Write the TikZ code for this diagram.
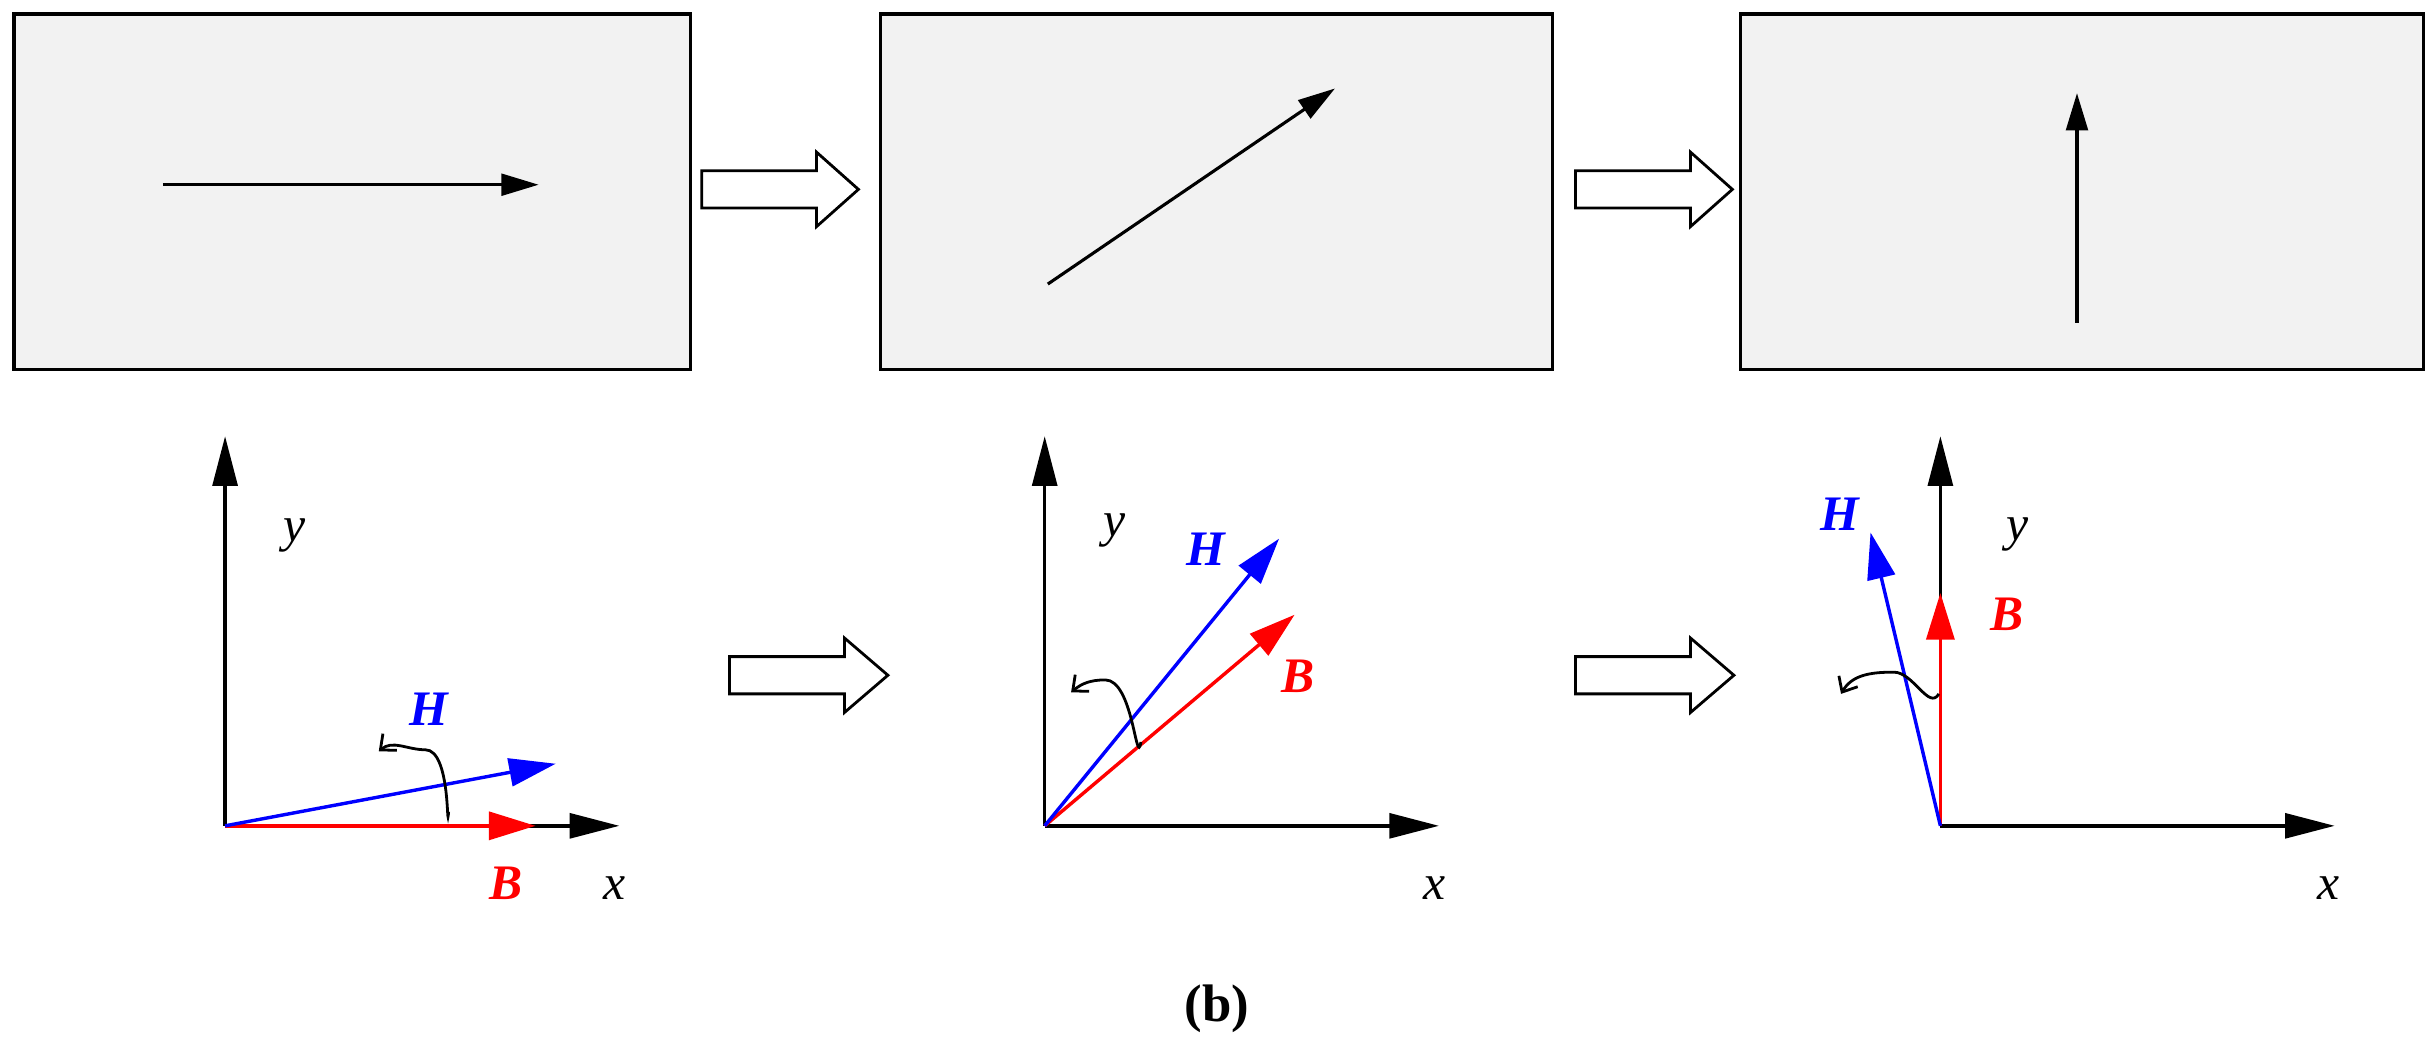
\documentclass[tikz,border=0pt]{standalone}
\usepackage{fontspec}
\setmainfont{Liberation Serif}
\usetikzlibrary{arrows.meta}
\begin{document}
\begin{tikzpicture}[x=1pt,y=-1pt,
 box/.style={draw,line width=2pt,fill={rgb,255:red,242;green,242;blue,242}},
 ar/.style={line width=2pt,-{Triangle[length=24,width=14]}},
 ax/.style={line width=2.2pt,-{Triangle[length=32,width=16]}},
 vec/.style={line width=2.2pt,-{Triangle[length=30,width=18]}},
 lab/.style={font=\fontsize{32}{36}\selectfont\itshape},
 blab/.style={font=\fontsize{32}{36}\selectfont\bfseries\itshape},
 rot/.style={line width=1.8pt,-{Straight Barb[length=8,width=14]}},
 blk/.style={draw,line width=1.8pt,fill=white}]
\useasboundingbox (0,0) rectangle (1568,682);
\newcommand{\blockarrow}[3]{\draw[blk] (#1,#2-12) -- (#1+74,#2-12) -- (#1+74,#2-24) -- (#1+#3,#2) -- (#1+74,#2+24) -- (#1+74,#2+12) -- (#1,#2+12) -- cycle;}
% boxes
\node[box,minimum width=436,minimum height=229,anchor=north west] (b1) at (8,8) {};
\node[box,minimum width=433,minimum height=229,anchor=north west] (b2) at (566,8) {};
\node[box,minimum width=440,minimum height=229,anchor=north west] (b3) at (1120,8) {};
\coordinate (a1s) at (105,119); \coordinate (a1e) at (347,119);
\coordinate (a2s) at (675,183); \coordinate (a2e) at (860,57);
\coordinate (a3s) at (1338,208); \coordinate (a3e) at (1338,60);
\draw[ar] (a1s) -- (a1e);
\draw[ar] (a2s) -- (a2e);
\draw[ar] (a3s) -- (a3e);
\blockarrow{452}{122}{101}
\blockarrow{1015}{122}{101}
\blockarrow{470}{435}{102}
\blockarrow{1015}{435}{102}
% axes 1
\coordinate (o1) at (145,532); \coordinate (y1) at (145,281); \coordinate (x1) at (399,532);
\coordinate (h1) at (358,492); \coordinate (bb1) at (345,532);
\draw[ax] (o1) -- (y1); \draw[ax] (o1) -- (x1);
\draw[vec,red] (o1) -- (bb1);
\draw[vec,blue] (o1) -- (h1);
\node[lab] (ly1) at (190,345) {y};
\node[lab] (lx1) at (396,572) {x};
\node[blab,blue] (lh1) at (276,457) {H};
\node[blab,red] (lb1) at (326,569) {B};
\coordinate (r1s) at (289,523); \coordinate (r1e) at (244,484);
\draw[rot] (r1s) to[out=-95,in=0] ++(-15,-40) to[out=180,in=40] (r1e);
% axes 2
\coordinate (o2) at (673,532); \coordinate (y2) at (673,281); \coordinate (x2) at (927,532);
\coordinate (h2) at (824,347); \coordinate (bb2) at (834,396);
\draw[ax] (o2) -- (y2); \draw[ax] (o2) -- (x2);
\draw[vec,red] (o2) -- (bb2);
\draw[vec,blue] (o2) -- (h2);
\node[lab] (ly2) at (718,342) {y};
\node[lab] (lx2) at (924,572) {x};
\node[blab,blue] (lh2) at (777,354) {H};
\node[blab,red] (lb2) at (836,436) {B};
\coordinate (r2e) at (690,446);
\draw[rot] (735,478) to[out=-100,in=0] (712,438) to[out=180,in=40] (r2e);
% axes 3
\coordinate (o3) at (1250,532); \coordinate (y3) at (1250,281); \coordinate (x3) at (1504,532);
\coordinate (h3) at (1205,343); \coordinate (bb3) at (1250,382);
\draw[ax] (o3) -- (y3); \draw[ax] (o3) -- (x3);
\draw[vec,red] (o3) -- (bb3);
\draw[vec,blue] (o3) -- (h3);
\node[lab] (ly3) at (1300,344) {y};
\node[lab] (lx3) at (1500,572) {x};
\node[blab,blue] (lh3) at (1185,331) {H};
\node[blab,red] (lb3) at (1293,396) {B};
\coordinate (r3e) at (1186,447);
\draw[rot] (1249,447) to[out=-120,in=0] (1220,433) to[out=180,in=60] (r3e);
\node[font=\fontsize{34}{38}\selectfont\bfseries] (cap) at (784,650) {(b)};
\end{tikzpicture}
\end{document}
